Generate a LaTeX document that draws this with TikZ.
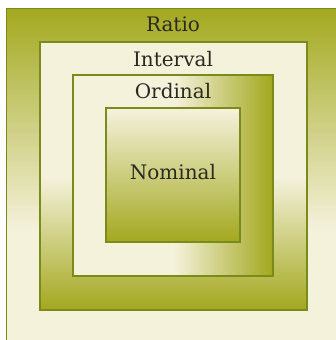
\documentclass[tikz,border=0pt]{standalone}
\usepackage{fontspec}
\setmainfont{DejaVu Serif}
\usetikzlibrary{calc}
\definecolor{olive}{HTML}{A3A920}
\definecolor{cream}{HTML}{F5F2DC}
\definecolor{edge}{HTML}{7A8B1C}
\definecolor{txt}{HTML}{2A2A22}
\tikzset{
  boxedge/.style={draw=edge, line width=1.2pt},
  lbl/.style={text=txt, font=\fontsize{20}{24}\selectfont, inner sep=0pt, anchor=base}
}
\begin{document}
\begin{tikzpicture}[x=1pt,y=1pt]
\useasboundingbox (0,0) rectangle (336,340);
\fill[white] (0,0) rectangle (336,340);
\begin{scope}
\clip (0,0) rectangle (336,340);
% Ratio (outer): olive at top -> cream at y=107
\fill[cream] (6.5,331.5) rectangle (345,-5);
\foreach \i in {0,...,74}{
  \pgfmathsetmacro{\p}{100-\i*100/74}
  \pgfmathsetmacro{\ya}{331.5-\i*3}
  \fill[olive!\p!cream] (6.5,\ya) rectangle (345,\ya-3.4);
}
\draw[boxedge] (6.5,-5) -- (6.5,331.5) -- (345,331.5);
% Interval: cream top, gradient to olive in lower half
\fill[cream] (40,298) rectangle (307,30);
\foreach \i in {0,...,66}{
  \pgfmathsetmacro{\p}{\i*100/66}
  \pgfmathsetmacro{\ya}{164-\i*2}
  \fill[olive!\p!cream] (40,\ya) rectangle (307,\ya-2.4);
}
\draw[boxedge] (40,30) rectangle (307,298);
% Ordinal: cream left, gradient to olive in right half
\fill[cream] (73,265) rectangle (273,64);
\foreach \i in {0,...,49}{
  \pgfmathsetmacro{\p}{\i*100/49}
  \pgfmathsetmacro{\xa}{173+\i*2}
  \fill[olive!\p!cream] (\xa,265) rectangle (\xa+2.4,64);
}
\draw[boxedge] (73,64) rectangle (273,265);
% Nominal: cream top -> olive bottom
\foreach \i in {0,...,66}{
  \pgfmathsetmacro{\p}{\i*100/66}
  \pgfmathsetmacro{\ya}{232-\i*2}
  \fill[olive!\p!cream] (106,\ya) rectangle (240,\ya-2.4);
}
\draw[boxedge] (106,98) rectangle (240,232);
\end{scope}
\node[lbl] (ratio) at (173,308) {Ratio};
\node[lbl] (interval) at (173,273) {Interval};
\node[lbl] (ordinal) at (173,241) {Ordinal};
\node[lbl] (nominal) at (173,160) {Nominal};
\end{tikzpicture}
\end{document}
